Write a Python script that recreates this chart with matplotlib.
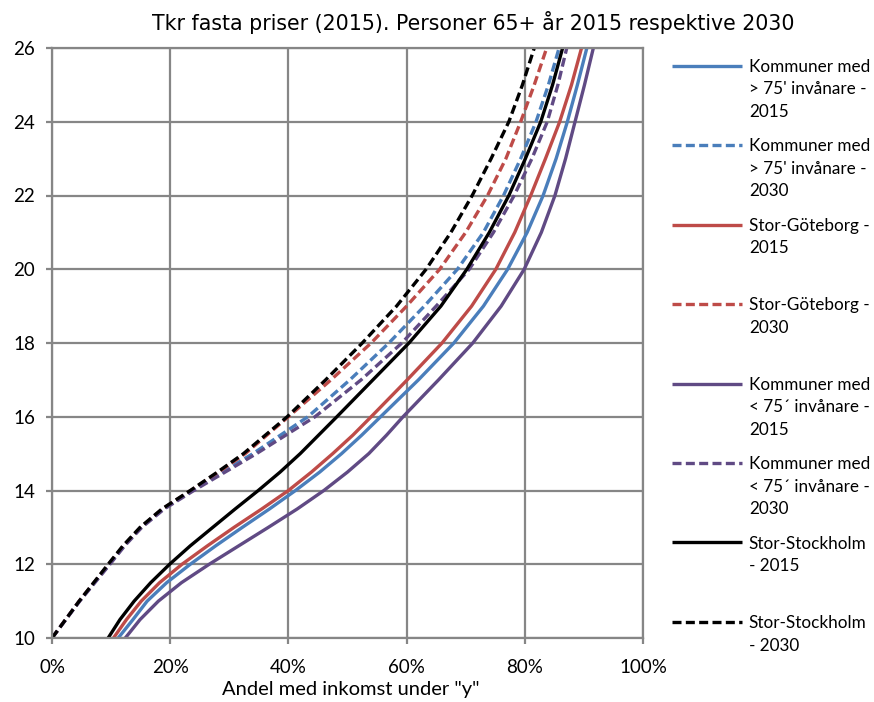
import matplotlib
matplotlib.use("Agg")
import matplotlib.pyplot as plt
from matplotlib.ticker import FuncFormatter, MultipleLocator

# Income levels (tkr, y axis) and share of persons below that income (x axis)
income = [10, 10.5, 11, 11.5, 12, 12.5, 13, 13.5, 14, 14.5, 15, 15.5, 16, 17, 18, 19, 20, 21, 22, 23, 24, 25, 26]

big_2015   = [0.112, 0.137, 0.161, 0.194, 0.234, 0.277, 0.322, 0.368, 0.412, 0.453, 0.490, 0.524, 0.556, 0.620, 0.680, 0.730, 0.771, 0.804, 0.831, 0.853, 0.872, 0.889, 0.905]
gbg_2015   = [0.104, 0.126, 0.151, 0.182, 0.220, 0.263, 0.308, 0.355, 0.400, 0.439, 0.475, 0.509, 0.540, 0.601, 0.660, 0.710, 0.751, 0.783, 0.810, 0.835, 0.859, 0.879, 0.896]
small_2015 = [0.124, 0.149, 0.180, 0.219, 0.266, 0.316, 0.366, 0.415, 0.460, 0.500, 0.536, 0.566, 0.594, 0.654, 0.712, 0.760, 0.799, 0.828, 0.851, 0.869, 0.885, 0.901, 0.916]
sthlm_2015 = [0.095, 0.115, 0.139, 0.167, 0.199, 0.234, 0.272, 0.310, 0.349, 0.386, 0.420, 0.451, 0.482, 0.543, 0.604, 0.658, 0.702, 0.740, 0.773, 0.801, 0.827, 0.847, 0.864]

income_2030 = [10, 11, 12, 12.5, 13, 13.5, 14, 14.5, 15, 16, 17, 18, 19, 20, 21, 22, 23, 24, 25, 26]
big_2030   = [0.0, 0.046, 0.097, 0.122, 0.150, 0.188, 0.237, 0.288, 0.340, 0.433, 0.504, 0.570, 0.630, 0.686, 0.730, 0.764, 0.793, 0.819, 0.840, 0.858]
gbg_2030   = [0.0, 0.046, 0.096, 0.121, 0.150, 0.187, 0.235, 0.282, 0.327, 0.400, 0.472, 0.540, 0.600, 0.656, 0.700, 0.737, 0.768, 0.793, 0.816, 0.837]
small_2030 = [0.0, 0.047, 0.098, 0.123, 0.152, 0.190, 0.240, 0.293, 0.346, 0.445, 0.523, 0.592, 0.650, 0.706, 0.747, 0.782, 0.812, 0.838, 0.856, 0.871]
sthlm_2030 = [0.0, 0.046, 0.095, 0.120, 0.149, 0.186, 0.234, 0.280, 0.324, 0.398, 0.463, 0.525, 0.583, 0.633, 0.675, 0.711, 0.743, 0.773, 0.796, 0.816]

labels = [
    "Kommuner med\n> 75' invånare -\n2015",
    "Kommuner med\n> 75' invånare -\n2030",
    "Stor-Göteborg -\n2015\n ",
    "Stor-Göteborg -\n2030\n ",
    "Kommuner med\n< 75\u00b4 invånare -\n2015",
    "Kommuner med\n< 75\u00b4 invånare -\n2030",
    "Stor-Stockholm\n- 2015\n ",
    "Stor-Stockholm\n- 2030\n ",
]
title = "Tkr fasta priser (2015). Personer 65+ år 2015 respektive 2030"
xlabel = 'Andel med inkomst under "y"'

BLUE = "#4A7EBB"
RED = "#BE4B48"
PURPLE = "#604A84"
BLACK = "#000000"
GRID = "#868686"

plt.rcParams["font.family"] = ["Lato", "DejaVu Sans"]

fig = plt.figure(figsize=(8.74, 7.02), dpi=100)
ax = fig.add_axes([52/874, 1-638/702, (643-52)/874, (638-48)/702])

lw = 2.4
dash = (0, (2.7, 1.3))
series = [
    (big_2015, income, BLUE, "-"),
    (big_2030, income_2030, BLUE, dash),
    (gbg_2015, income, RED, "-"),
    (gbg_2030, income_2030, RED, dash),
    (small_2015, income, PURPLE, "-"),
    (small_2030, income_2030, PURPLE, dash),
    (sthlm_2015, income, BLACK, "-"),
    (sthlm_2030, income_2030, BLACK, dash),
]
handles = []
for xs, ys, c, ls in series:
    h, = ax.plot(xs, ys, color=c, linestyle=ls, lw=lw, solid_capstyle="butt",
                 dash_capstyle="butt", solid_joinstyle="round", dash_joinstyle="round")
    handles.append(h)

ax.set_xlim(0, 1)
ax.set_ylim(10, 26)
ax.xaxis.set_major_locator(MultipleLocator(0.2))
ax.yaxis.set_major_locator(MultipleLocator(2))
ax.xaxis.set_major_formatter(FuncFormatter(lambda v, p: f"{v*100:.0f}%"))
ax.grid(True, color=GRID, lw=1.6)
ax.set_axisbelow(True)
for s in ax.spines.values():
    s.set_color(GRID)
    s.set_linewidth(1.6)
ax.tick_params(axis="both", direction="out", length=4, width=1.6, color=GRID,
               labelsize=13.5, labelcolor="black")
ax.tick_params(axis="x", pad=11)
ax.tick_params(axis="y", pad=8)

fig.text(473/874, 1-22/702, title, ha="center", va="center", fontsize=14.8,
         family=["Liberation Sans Narrow", "DejaVu Sans"])
fig.text(351/874, 1-690/702, xlabel, ha="center", va="center", fontsize=14.5)

leg = ax.legend(handles, labels, loc="upper left", bbox_to_anchor=(672/874, 1-59/702),
                bbox_transform=fig.transFigure, frameon=False, fontsize=12.3,
                borderpad=0, borderaxespad=0, handlelength=4.1, handletextpad=0.4,
                handleheight=1.0, labelspacing=1.08)
for t in leg.get_texts():
    t.set_linespacing(1.5)
for col in leg._legend_handle_box.get_children():
    for hp in col.get_children():
        hp.align = "top"

fig.savefig("out.png", dpi=100)
